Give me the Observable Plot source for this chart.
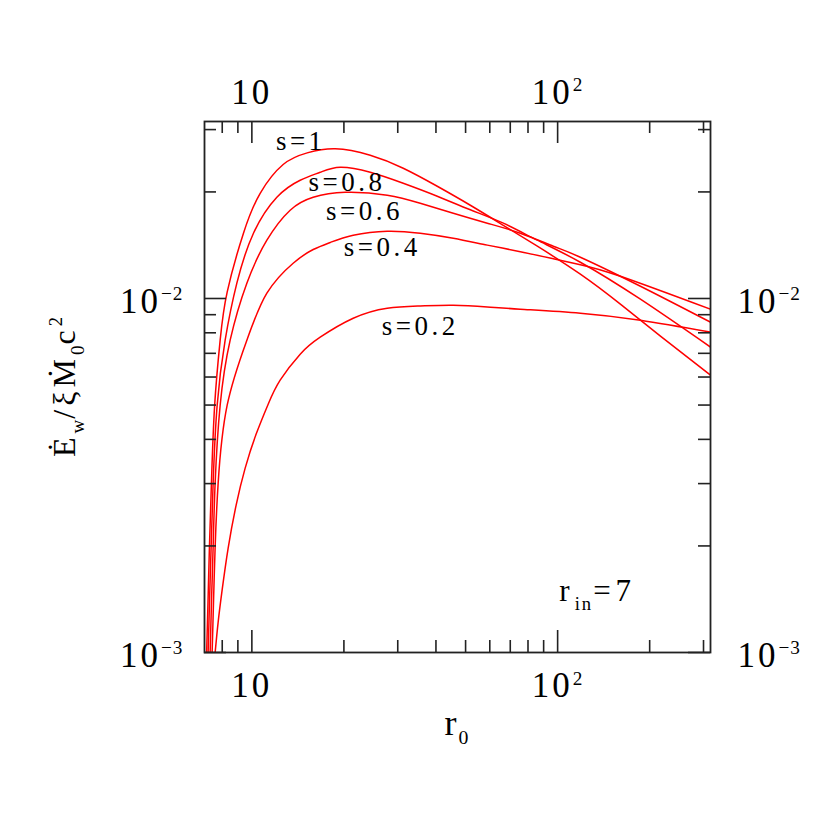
<!DOCTYPE html>
<html>
<head>
<meta charset="utf-8">
<script src="https://cdn.jsdelivr.net/npm/d3@7"></script>
<script src="https://cdn.jsdelivr.net/npm/@observablehq/plot@0.6"></script>
<style>
  body { margin: 0; background: #fff; }
  svg { display: block; }
</style>
</head>
<body>
<div id="chart"></div>
<script>
// ---------- data ----------
const sLabels = ["s=1", "s=0.8", "s=0.6", "s=0.4", "s=0.2"];

const r_s1 = [7.114, 7.194, 7.265, 7.375, 7.556, 7.876, 8.303, 9.387, 10.646, 12.658, 15.171, 18.740, 24.384, 31.266, 40.395, 51.815, 66.438, 85.817, 118.66, 160.40, 216.87, 316.2];
const E_s1 = [0.001, 0.001434, 0.001985, 0.003010, 0.004995, 0.007625, 0.01042, 0.01529, 0.01982, 0.02390, 0.02578, 0.02648, 0.02538, 0.02333, 0.02075, 0.01834, 0.01610, 0.01405, 0.01171, 0.009636, 0.007826, 0.006074];

const r_s08 = [7.194, 7.276, 7.358, 7.470, 7.700, 8.178, 8.931, 10.121, 12.071, 14.390, 16.730, 19.457, 24.384, 31.266, 40.395, 51.815, 66.438, 85.817, 118.66, 186.55, 316.2];
const E_s08 = [0.001, 0.001434, 0.001985, 0.003010, 0.004995, 0.007625, 0.01105, 0.01529, 0.01932, 0.02158, 0.02273, 0.02348, 0.02273, 0.02116, 0.01945, 0.01781, 0.01632, 0.01461, 0.01266, 0.009954, 0.007289];

const r_s06 = [7.303, 7.386, 7.470, 7.584, 7.876, 8.492, 9.630, 11.197, 13.343, 15.871, 20.203, 27.720, 35.536, 45.581, 58.884, 75.505, 96.807, 118.66, 186.55, 316.2];
const E_s06 = [0.001, 0.001434, 0.001985, 0.003010, 0.004995, 0.007625, 0.01105, 0.01461, 0.01776, 0.01932, 0.01995, 0.01958, 0.01858, 0.01741, 0.01632, 0.01529, 0.01405, 0.01308, 0.01083, 0.008571];

const r_s04 = [7.414, 7.499, 7.584, 7.758, 8.303, 9.630, 11.197, 13.648, 15.871, 18.045, 21.455, 27.720, 35.536, 45.581, 58.884, 75.505, 96.807, 118.66, 160.40, 316.2];
const E_s04 = [0.001, 0.001434, 0.001985, 0.003010, 0.004995, 0.007625, 0.01035, 0.01258, 0.01375, 0.01440, 0.01509, 0.01549, 0.01529, 0.01480, 0.01415, 0.01356, 0.01295, 0.01246, 0.01156, 0.009328];

const r_s02 = [7.584, 7.758, 7.995, 8.365, 8.884, 9.508, 10.329, 11.306, 12.375, 14.390, 16.730, 21.455, 27.720, 35.536, 45.581, 58.884, 75.505, 118.66, 186.55, 316.2];
const E_s02 = [0.001, 0.001219, 0.001502, 0.001972, 0.002609, 0.003318, 0.004139, 0.005029, 0.005877, 0.006963, 0.007775, 0.008797, 0.009389, 0.009530, 0.009574, 0.009469, 0.009328, 0.009089, 0.008683, 0.008035];

const rSeries = [r_s1, r_s08, r_s06, r_s04, r_s02];
const eSeries = [E_s1, E_s08, E_s06, E_s04, E_s02];

// curve label anchor positions (data coordinates)
const labelR = [14.45, 20.46, 23.34, 26.69, 35.54];
const labelE = [0.02784, 0.02123, 0.01766, 0.01398, 0.008365];

// annotation
const noteText = ["r_{in}=7"];
const noteR = [101.3];
const noteE = [0.001487];

// ticks
const xMajor = [10, 100];
const xMinor = [8, 9, 20, 30, 40, 50, 60, 70, 80, 90, 200, 300];
const xTickText = ["10", "10^{2}"];
const yMajor = [0.001, 0.01];
const yMinor = [0.002, 0.003, 0.004, 0.005, 0.006, 0.007, 0.008, 0.009, 0.02, 0.03];
const yTickText = ["10^{\u22123}", "10^{\u22122}"];

const xTitle = "r_{0}";
const yTitle = "\u0116_{w}/\u03BE\u1E40_{0}c^{2}";

// ---------- layout ----------
const W = 830, H = 830;
const mL = 204, mR = 120, mT = 121, mB = 178;
const plotW = W - mL - mR;
const plotH = H - mT - mB;
const majorLen = 22, minorLen = 12;
const axisColor = "#222";
const FONT = "'Liberation Serif','DejaVu Serif',serif";

const rows = [];
sLabels.forEach((s, k) => rSeries[k].forEach((r, j) => rows.push({s, r, E: eSeries[k][j]})));

const tickOpts = {stroke: axisColor, strokeWidth: 1.6};

const plot = Plot.plot({
  width: W, height: H,
  marginLeft: mL, marginRight: mR, marginTop: mT, marginBottom: mB,
  x: {type: "log", domain: [7, 316.2], axis: null},
  y: {type: "log", domain: [0.001, 0.03162], axis: null},
  style: {fontFamily: FONT, background: "white", color: "black"},
  marks: [
    Plot.line(rows, {x: "r", y: "E", z: "s", stroke: "#ff0000", strokeWidth: 1.5, curve: "natural", clip: true}),
    // x ticks bottom & top
    Plot.tickX(xMajor, {x: d => d, insetTop: plotH - majorLen, ...tickOpts}),
    Plot.tickX(xMinor, {x: d => d, insetTop: plotH - minorLen, ...tickOpts}),
    Plot.tickX(xMajor, {x: d => d, insetBottom: plotH - majorLen, ...tickOpts}),
    Plot.tickX(xMinor, {x: d => d, insetBottom: plotH - minorLen, ...tickOpts}),
    // y ticks left & right
    Plot.tickY(yMajor, {y: d => d, insetRight: plotW - majorLen, ...tickOpts}),
    Plot.tickY(yMinor, {y: d => d, insetRight: plotW - minorLen, ...tickOpts}),
    Plot.tickY(yMajor, {y: d => d, insetLeft: plotW - majorLen, ...tickOpts}),
    Plot.tickY(yMinor, {y: d => d, insetLeft: plotW - minorLen, ...tickOpts}),
    Plot.frame({stroke: axisColor, strokeWidth: 1.8}),
    // tick labels
    Plot.text(xMajor, {x: d => d, text: (d, i) => xTickText[i], frameAnchor: "bottom", lineAnchor: "top", dy: 20, fontSize: 35, fill: "black"}),
    Plot.text(xMajor, {x: d => d, text: (d, i) => xTickText[i], frameAnchor: "top", lineAnchor: "bottom", dy: -18, fontSize: 35, fill: "black"}),
    Plot.text(yMajor, {y: d => d, text: (d, i) => yTickText[i], frameAnchor: "left", textAnchor: "end", dx: -21, dy: 3, fontSize: 35, fill: "black"}),
    Plot.text(yMajor, {y: d => d, text: (d, i) => yTickText[i], frameAnchor: "right", textAnchor: "start", dx: 27, dy: 3, fontSize: 35, fill: "black"}),
    // curve labels
    Plot.text(sLabels, {x: (d, i) => labelR[i], y: (d, i) => labelE[i], text: d => d, fontSize: 27, fill: "black"}),
    // r_in annotation
    Plot.text(noteText, {x: (d, i) => noteR[i], y: (d, i) => noteE[i], text: d => d, textAnchor: "start", fontSize: 31, fill: "black"})
  ]
});

document.getElementById("chart").appendChild(plot);

const NS = "http://www.w3.org/2000/svg";
function richify(el, base, o = {}) {
  const src = el.textContent;
  if (!/[_^]\{/.test(src)) return;
  const subScale = o.subScale ?? 0.6, supScale = o.supScale ?? 0.55;
  const subShift = o.subShift ?? 0.25, supShift = o.supShift ?? 0.36;
  const scriptSpacing = o.scriptSpacing ?? 1;
  while (el.firstChild) el.removeChild(el.firstChild);
  const re = /([_^])\{([^}]*)\}|([^_^]+)/g;
  let m, cur = 0;
  while ((m = re.exec(src))) {
    const t = document.createElementNS(NS, "tspan");
    let target = 0;
    if (m[3] !== undefined) {
      t.textContent = m[3];
    } else {
      const sub = m[1] === "_";
      target = sub ? subShift * base : -supShift * base;
      t.textContent = m[2];
      t.setAttribute("font-size", (sub ? subScale : supScale) * base);
      t.setAttribute("letter-spacing", scriptSpacing);
    }
    const d = target - cur;
    if (d) t.setAttribute("dy", d);
    cur = target;
    el.appendChild(t);
  }
}

const svg = d3.select(plot);
svg.selectAll("g[font-size] text").each(function () {
  const g = this.parentNode;
  const fs = +g.getAttribute("font-size");
  const ls = fs >= 34 ? 3 : fs === 31 ? 5 : 3.5;
  d3.select(g).attr("letter-spacing", ls);
  richify(this, fs, {subShift: 0.28, subScale: 0.6, scriptSpacing: fs === 31 ? 2 : 1});
});

// axis titles
const xr = plot.scale("x").range, yr = plot.scale("y").range;
const xTitleEl = svg.append("text")
  .attr("x", (xr[0] + xr[1]) / 2)
  .attr("y", yr[0] + 83)
  .attr("text-anchor", "middle")
  .attr("font-family", FONT)
  .attr("font-size", 36)
  .attr("letter-spacing", 2)
  .attr("fill", "black")
  .text(xTitle);
richify(xTitleEl.node(), 36, {subScale: 0.55, subShift: 0.24});

const yTitleEl = svg.append("text")
  .attr("transform", `translate(${mL - 129},${(yr[0] + yr[1]) / 2}) rotate(-90)`)
  .attr("text-anchor", "middle")
  .attr("font-family", FONT)
  .attr("font-size", 32)
  .attr("letter-spacing", 4)
  .attr("fill", "black")
  .text(yTitle);
richify(yTitleEl.node(), 32, {subScale: 0.6, subShift: 0.28, supScale: 0.58, supShift: 0.4});
</script>
</body>
</html>
